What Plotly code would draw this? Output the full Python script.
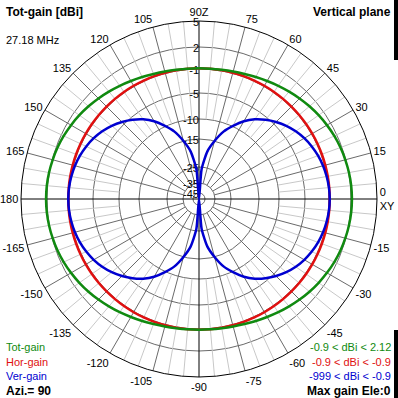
import numpy as np
import plotly.graph_objects as go

# ---------------- data ----------------
angles = list(range(0, 360, 5))  # elevation angle, degrees

tot_gain = [
    2.11, 2.09, 2.03, 1.93, 1.80, 1.63, 1.42, 1.19, 0.94, 0.67, 0.39, 0.12, -0.15, -0.38, -0.58, -0.73, -0.84, -0.89, -0.90,
    -0.89, -0.84, -0.73, -0.58, -0.38, -0.15, 0.12, 0.39, 0.67, 0.94, 1.19, 1.42, 1.63, 1.80, 1.93, 2.03, 2.09, 2.11,
    2.09, 2.03, 1.93, 1.80, 1.63, 1.42, 1.19, 0.94, 0.67, 0.39, 0.12, -0.15, -0.38, -0.58, -0.73, -0.84, -0.89, -0.90,
    -0.89, -0.84, -0.73, -0.58, -0.38, -0.15, 0.12, 0.39, 0.67, 0.94, 1.19, 1.42, 1.63, 1.80, 1.93, 2.03, 2.09,
]
hor_gain = [
    -0.9, -0.9, -0.9, -0.9, -0.9, -0.9, -0.9, -0.9, -0.9, -0.9, -0.9, -0.9, -0.9, -0.9, -0.9, -0.9, -0.9, -0.9,
    -0.9, -0.9, -0.9, -0.9, -0.9, -0.9, -0.9, -0.9, -0.9, -0.9, -0.9, -0.9, -0.9, -0.9, -0.9, -0.9, -0.9, -0.9,
    -0.9, -0.9, -0.9, -0.9, -0.9, -0.9, -0.9, -0.9, -0.9, -0.9, -0.9, -0.9, -0.9, -0.9, -0.9, -0.9, -0.9, -0.9,
    -0.9, -0.9, -0.9, -0.9, -0.9, -0.9, -0.9, -0.9, -0.9, -0.9, -0.9, -0.9, -0.9, -0.9, -0.9, -0.9, -0.9, -0.9,
]
ver_gain = [
    -0.90, -0.94, -1.06, -1.26, -1.55, -1.93, -2.40, -2.98, -3.68, -4.51, -5.50, -6.69, -8.13, -9.88, -12.08, -14.99, -19.14, -26.33, -999,
    -26.33, -19.14, -14.99, -12.08, -9.88, -8.13, -6.69, -5.50, -4.51, -3.68, -2.98, -2.40, -1.93, -1.55, -1.26, -1.06, -0.94, -0.90,
    -0.94, -1.06, -1.26, -1.55, -1.93, -2.40, -2.98, -3.68, -4.51, -5.50, -6.69, -8.13, -9.88, -12.08, -14.99, -19.14, -26.33, -999,
    -26.33, -19.14, -14.99, -12.08, -9.88, -8.13, -6.69, -5.50, -4.51, -3.68, -2.98, -2.40, -1.93, -1.55, -1.26, -1.06, -0.94,
]

ring_dbi = [5, 2, -1, -5, -10, -15, -25, -35, -45]
ring_labels = ["5", "2", "-1", "-5", "-10", "-15", "-25", "-35", "-45"]
# radial scale of the chart (outer ring = 178 units)
ring_scale = [178, 152, 130, 106, 80, 60, 32, 16, 6]

ang_ticks = list(range(0, 360, 15))
ang_labels = ["0<br>XY", "15", "30", "45", "60", "75", "90Z", "105", "120", "135", "150", "165",
              "180", "-165", "-150", "-135", "-120", "-105", "-90", "-75", "-60", "-45", "-30", "-15"]

# ---------------- scale ----------------
_xp = [-999] + ring_dbi[::-1]
_fp = [0] + ring_scale[::-1]


def scale(v):
    return np.interp(np.asarray(v, dtype=float), _xp, _fp)


R_OUT = ring_scale[0]
FONT = "Liberation Sans, Arial, sans-serif"
GREEN = "#108a10"
RED = "#e01010"
BLUE = "#0000d0"

fig = go.Figure()

# spokes
dark_r, dark_t, light_r, light_t = [], [], [], []
for a in range(0, 360, 5):
    if a % 90 == 0:
        continue
    if a % 15 == 0:
        dark_r += [ring_scale[-2], R_OUT, None]
        dark_t += [a, a, None]
    else:
        light_r += [ring_scale[4], R_OUT, None]
        light_t += [a, a, None]
fig.add_trace(go.Scatterpolar(r=light_r, theta=light_t, mode="lines",
                              line=dict(color="#c8c8c8", width=1), hoverinfo="skip", connectgaps=False))
fig.add_trace(go.Scatterpolar(r=dark_r, theta=dark_t, mode="lines",
                              line=dict(color="#6a6a6a", width=1), hoverinfo="skip", connectgaps=False))
# main axes
fig.add_trace(go.Scatterpolar(r=[R_OUT, R_OUT, None, R_OUT, R_OUT], theta=[0, 180, None, 90, 270],
                              mode="lines", line=dict(color="black", width=1), hoverinfo="skip",
                              connectgaps=False))

# ring labels (drawn just under each ring, left of the vertical axis)
fig.add_trace(go.Scatterpolar(r=[v - 2 for v in ring_scale], theta=[90] * len(ring_scale), mode="text",
                              text=ring_labels, textposition="middle left",
                              textfont=dict(family=FONT, size=11, color="black"), hoverinfo="skip"))

th = angles + [360]
for vals, col in [(hor_gain, RED), (tot_gain, GREEN), (ver_gain, BLUE)]:
    rr = list(scale(vals))
    rr = rr + [rr[0]]
    fig.add_trace(go.Scatterpolar(r=rr, theta=th, mode="lines",
                                  line=dict(color=col, width=2.5, shape="spline", smoothing=0.6),
                                  hoverinfo="skip"))

fig.update_layout(
    width=398, height=398,
    margin=dict(l=0, r=0, t=0, b=0),
    paper_bgcolor="white",
    showlegend=False,
    hovermode=False,
    polar=dict(
        domain=dict(x=[21 / 398, 377 / 398], y=[21 / 398, 377 / 398]),
        bgcolor="white",
        radialaxis=dict(range=[0, R_OUT], tickvals=ring_scale, showticklabels=False,
                        showline=False, ticks="", gridcolor="#6a6a6a", gridwidth=1, angle=90),
        angularaxis=dict(rotation=0, direction="counterclockwise", tickvals=ang_ticks,
                         ticktext=ang_labels, showgrid=False, showline=True, linecolor="black",
                         linewidth=1, ticks="",
                         tickfont=dict(family=FONT, size=11, color="black")),
    ),
)


def txt(x, y, s, color="black", bold=False, anchor="left"):
    fig.add_annotation(xref="paper", yref="paper", x=x / 398, y=1 - y / 398, text=f"<b>{s}</b>" if bold else s,
                       showarrow=False, xanchor=anchor, yanchor="middle",
                       font=dict(family=FONT, size=12 if bold else 11, color=color))


txt(4, 12, "Tot-gain [dBi]", bold=True)
txt(4, 40, "27.18 MHz")
txt(393, 12, "Vertical plane", bold=True, anchor="right")
txt(4, 347, "Tot-gain", GREEN)
txt(4, 362, "Hor-gain", RED)
txt(4, 376, "Ver-gain", BLUE)
txt(4, 391, "Azi.= 90", bold=True)
txt(393, 347, "-0.9 &lt; dBi &lt; 2.12", GREEN, anchor="right")
txt(393, 362, "-0.9 &lt; dBi &lt; -0.9", RED, anchor="right")
txt(393, 376, "-999 &lt; dBi &lt; -0.9", BLUE, anchor="right")
txt(393, 391, "Max gain Ele:0", bold=True, anchor="right")

fig.add_shape(type="rect", xref="paper", yref="paper", x0=394 / 398, x1=1, y0=1 - 60 / 398, y1=1,
              fillcolor="black", line=dict(width=0))
fig.add_shape(type="rect", xref="paper", yref="paper", x0=394 / 398, x1=1, y0=0, y1=68 / 398,
              fillcolor="black", line=dict(width=0))

fig.write_html(
    "out.html",
    config={"displayModeBar": False, "staticPlot": True},
    post_script="document.body.style.margin='0';document.body.style.padding='0';"
                "document.body.style.overflow='hidden';",
)
